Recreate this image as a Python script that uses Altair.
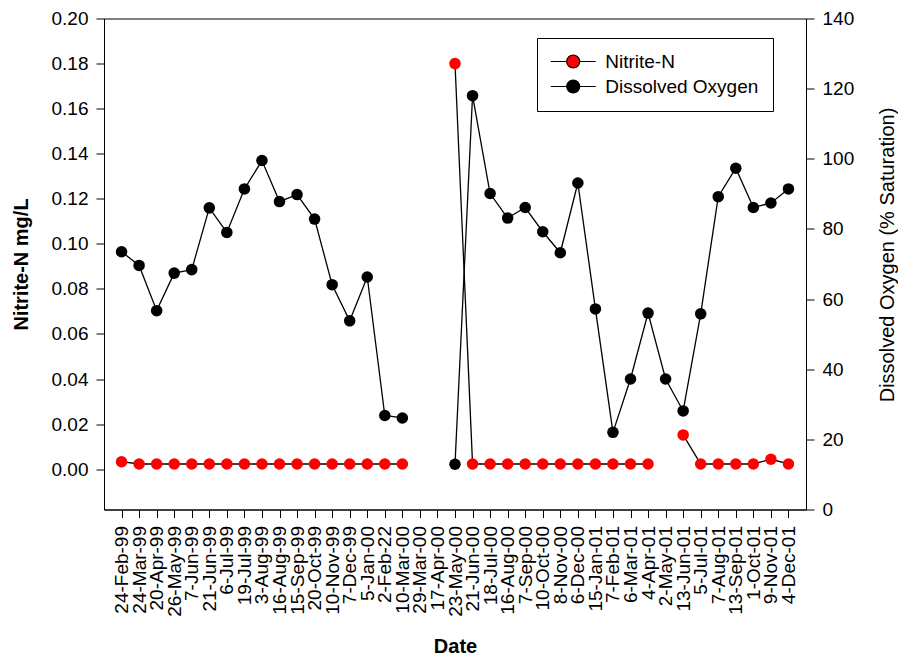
import altair as alt
import pandas as pd

dates = ["24-Feb-99", "24-Mar-99", "20-Apr-99", "26-May-99", "7-Jun-99", "21-Jun-99",
         "6-Jul-99", "19-Jul-99", "3-Aug-99", "16-Aug-99", "15-Sep-99", "20-Oct-99",
         "10-Nov-99", "7-Dec-99", "5-Jan-00", "2-Feb-22", "10-Mar-00", "29-Mar-00",
         "17-Apr-00", "23-May-00", "21-Jun-00", "18-Jul-00", "16-Aug-00", "7-Sep-00",
         "10-Oct-00", "8-Nov-00", "6-Dec-00", "15-Jan-01", "7-Feb-01", "6-Mar-01",
         "4-Apr-01", "2-May-01", "13-Jun-01", "5-Jul-01", "7-Aug-01", "13-Sep-01",
         "1-Oct-01", "9-Nov-01", "4-Dec-01"]

nitrite = [0.0033, 0.0023, 0.0023, 0.0023, 0.0023, 0.0023, 0.0023, 0.0023, 0.0023,
           0.0023, 0.0023, 0.0023, 0.0023, 0.0023, 0.0023, 0.0023, 0.0023, None,
           None, 0.180, 0.0023, 0.0023, 0.0023, 0.0023, 0.0023, 0.0023, 0.0023,
           0.0023, 0.0023, 0.0023, 0.0023, None, 0.0152, 0.0023, 0.0023, 0.0023,
           0.0023, 0.0044, 0.0023]

dissolved_oxygen = [73.5, 69.6, 56.7, 67.4, 68.4, 86.0, 79.0, 91.4, 99.5, 87.8, 89.8,
                    82.8, 64.1, 53.8, 66.3, 26.8, 26.1, None, None, 12.9, 118.0, 90.1,
                    83.1, 86.1, 79.2, 73.2, 93.1, 57.2, 22.0, 37.2, 56.0, 37.2, 28.1,
                    55.8, 89.2, 97.3, 86.1, 87.4, 91.4]

series_names = ["Nitrite-N", "Dissolved Oxygen"]
series_colors = ["#ff0000", "#000000"]

left_ticks = [0.0, 0.02, 0.04, 0.06, 0.08, 0.10, 0.12, 0.14, 0.16, 0.18, 0.20]
right_ticks = [0, 20, 40, 60, 80, 100, 120, 140]

df = pd.DataFrame({"date": dates, "nitrite": nitrite, "oxygen": dissolved_oxygen})

FONT = "Liberation Sans"

x_enc = alt.X(
    "date:O",
    sort=dates,
    scale=alt.Scale(type="point", domain=dates, padding=1),
    axis=alt.Axis(
        title="Date", labelAngle=270, labelFontSize=19, labelPadding=8,
        tickSize=8, titleFontSize=20, titleFontWeight="bold", titlePadding=20,
        labelOverlap=False, labelColor="black", tickColor="black", domainColor="black",
    ),
)

color_enc = alt.Color(
    "series:N",
    scale=alt.Scale(domain=series_names, range=series_colors),
    legend=alt.Legend(
        title=None, orient="none", legendX=433, legendY=19.5,
        symbolType="M-3.46,0H-1M1,0H3.46M1,0A1,1,0,1,1,-1,0A1,1,0,1,1,1,0Z",
        symbolSize=169, symbolStrokeColor="black", symbolStrokeWidth=1.2,
        symbolOffset=12.7, labelOffset=22.5, labelFontSize=19, labelLimit=300,
        padding=14, rowPadding=5, strokeColor="black", fillColor="white",
        labelColor="black",
    ),
)

base = alt.Chart(df)

left_axis = alt.Axis(
    title="Nitrite-N mg/L", values=left_ticks, format=".2f", labelFontSize=19,
    labelPadding=8, tickSize=8, titleFontSize=20, titleFontWeight="bold",
    titlePadding=20, grid=False, labelColor="black", tickColor="black",
    domainColor="black",
)
left_scale = alt.Scale(domain=[-0.0179, 0.20], nice=False, zero=False)

right_axis = alt.Axis(
    title="Dissolved Oxygen (% Saturation)", orient="right", values=right_ticks,
    labelFontSize=19, labelPadding=8, tickSize=8, titleFontSize=20,
    titleFontWeight="normal", titleAngle=270, titleBaseline="top", titlePadding=24,
    titleY=236, grid=False, labelColor="black", tickColor="black", domainColor="black",
)
right_scale = alt.Scale(domain=[0, 140], nice=False, zero=False)

nit_line = base.mark_line(color="black", strokeWidth=1.3,
                          invalid="break-paths-filter-domains").encode(
    x=x_enc, y=alt.Y("nitrite:Q", scale=left_scale, axis=left_axis))
nit_pts = base.transform_filter("isValid(datum.nitrite)").transform_calculate(
    series="'Nitrite-N'").mark_circle(size=133, opacity=1, strokeWidth=0).encode(
    x=x_enc, y=alt.Y("nitrite:Q", scale=left_scale, axis=left_axis), color=color_enc)

do_line = base.mark_line(color="black", strokeWidth=1.3,
                         invalid="break-paths-filter-domains").encode(
    x=x_enc, y=alt.Y("oxygen:Q", scale=right_scale, axis=right_axis))
do_pts = base.transform_filter("isValid(datum.oxygen)").transform_calculate(
    series="'Dissolved Oxygen'").mark_circle(size=133, opacity=1, strokeWidth=0).encode(
    x=x_enc, y=alt.Y("oxygen:Q", scale=right_scale, axis=right_axis), color=color_enc)

left = alt.layer(nit_line, nit_pts)
right = alt.layer(do_line, do_pts)

chart = alt.layer(left, right).resolve_scale(y="independent").properties(
    width=702, height=491,
    autosize=alt.AutoSizeParams(type="none"),
    padding={"left": 104, "top": 18.5, "right": 92, "bottom": 147.5},
    background="white",
).configure(font=FONT).configure_view(stroke="black", strokeWidth=1).configure_axis(
    labelFont=FONT, titleFont=FONT, domainWidth=1, tickWidth=1
).configure_legend(labelFont=FONT)

chart.save("out.html", embed_options={"renderer": "svg", "actions": False})
